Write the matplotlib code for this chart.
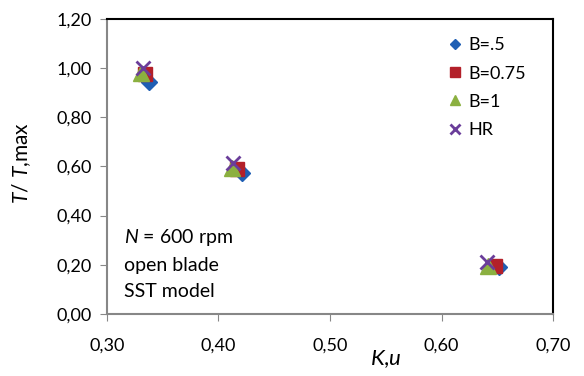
import numpy as np
import matplotlib.pyplot as plt

plt.rcParams['font.family'] = ['Lato', 'DejaVu Sans']
plt.rcParams['mathtext.fontset'] = 'custom'
plt.rcParams['mathtext.rm'] = 'Lato'
plt.rcParams['mathtext.it'] = 'Lato:italic'

# datos
ku_b05 = [0.3377, 0.4208, 0.6516]
t_b05 = [0.945, 0.575, 0.19]
ku_b075 = [0.3345, 0.4163, 0.648]
t_b075 = [0.975, 0.59, 0.195]
ku_b1 = [0.331, 0.412, 0.642]
t_b1 = [0.98, 0.594, 0.193]
ku_hr = [0.332, 0.4133, 0.6405]
t_hr = [1.0, 0.613, 0.21]

xticks = [0.30, 0.40, 0.50, 0.60, 0.70]
yticks = [0.0, 0.2, 0.4, 0.6, 0.8, 1.0, 1.2]

fig = plt.figure(figsize=(5.84, 3.76), dpi=100)
ax = fig.add_axes([0.183, 0.165, 0.764, 0.785])

ax.plot(ku_b05, t_b05, linestyle='', marker='D', ms=8, color='#1f5fb4', label='B=.5')
ax.plot(ku_b075, t_b075, linestyle='', marker='s', ms=10, color='#b3202a', label='B=0.75')
ax.plot(ku_b1, t_b1, linestyle='', marker='^', ms=11, color='#8bb040', label='B=1')
ax.plot(ku_hr, t_hr, linestyle='', marker='x', ms=10, mew=2, color='#6a3d9a', label='HR')

ax.set_xlim(0.30, 0.70)
ax.set_ylim(0.0, 1.2)
ax.set_xticks(xticks)
ax.set_yticks(yticks)
ax.set_xticklabels([f'{v:.2f}'.replace('.', ',') for v in xticks])
ax.set_yticklabels([f'{v:.2f}'.replace('.', ',') for v in yticks])
ax.tick_params(axis='both', labelsize=13, color='#878787', length=5, direction='out')
ax.tick_params(axis='x', pad=12)
ax.tick_params(axis='y', pad=6)

for s in ['left', 'bottom']:
    ax.spines[s].set_color('#878787')
    ax.spines[s].set_linewidth(1.5)
for s in ['top', 'right']:
    ax.spines[s].set_color('black')
    ax.spines[s].set_linewidth(1.5)

ax.set_xlabel('$K$,$u$', fontsize=16)
ax.xaxis.set_label_coords(0.625, -0.115)
ax.set_ylabel('$T$/ $T$,max', fontsize=15)
ax.yaxis.set_label_coords(-0.165, 0.51)

ax.text(0.038, 0.295, '$N$ = 600 rpm\nopen blade\nSST model', transform=ax.transAxes,
        fontsize=14, va='top', ha='left', linespacing=1.65)

ax.legend(loc='upper right', bbox_to_anchor=(0.955, 0.962), frameon=False, fontsize=13,
          markerscale=0.65, handlelength=0.7, handletextpad=0.35, labelspacing=0.68,
          borderaxespad=0.0)

fig.savefig('out.png', dpi=100)
